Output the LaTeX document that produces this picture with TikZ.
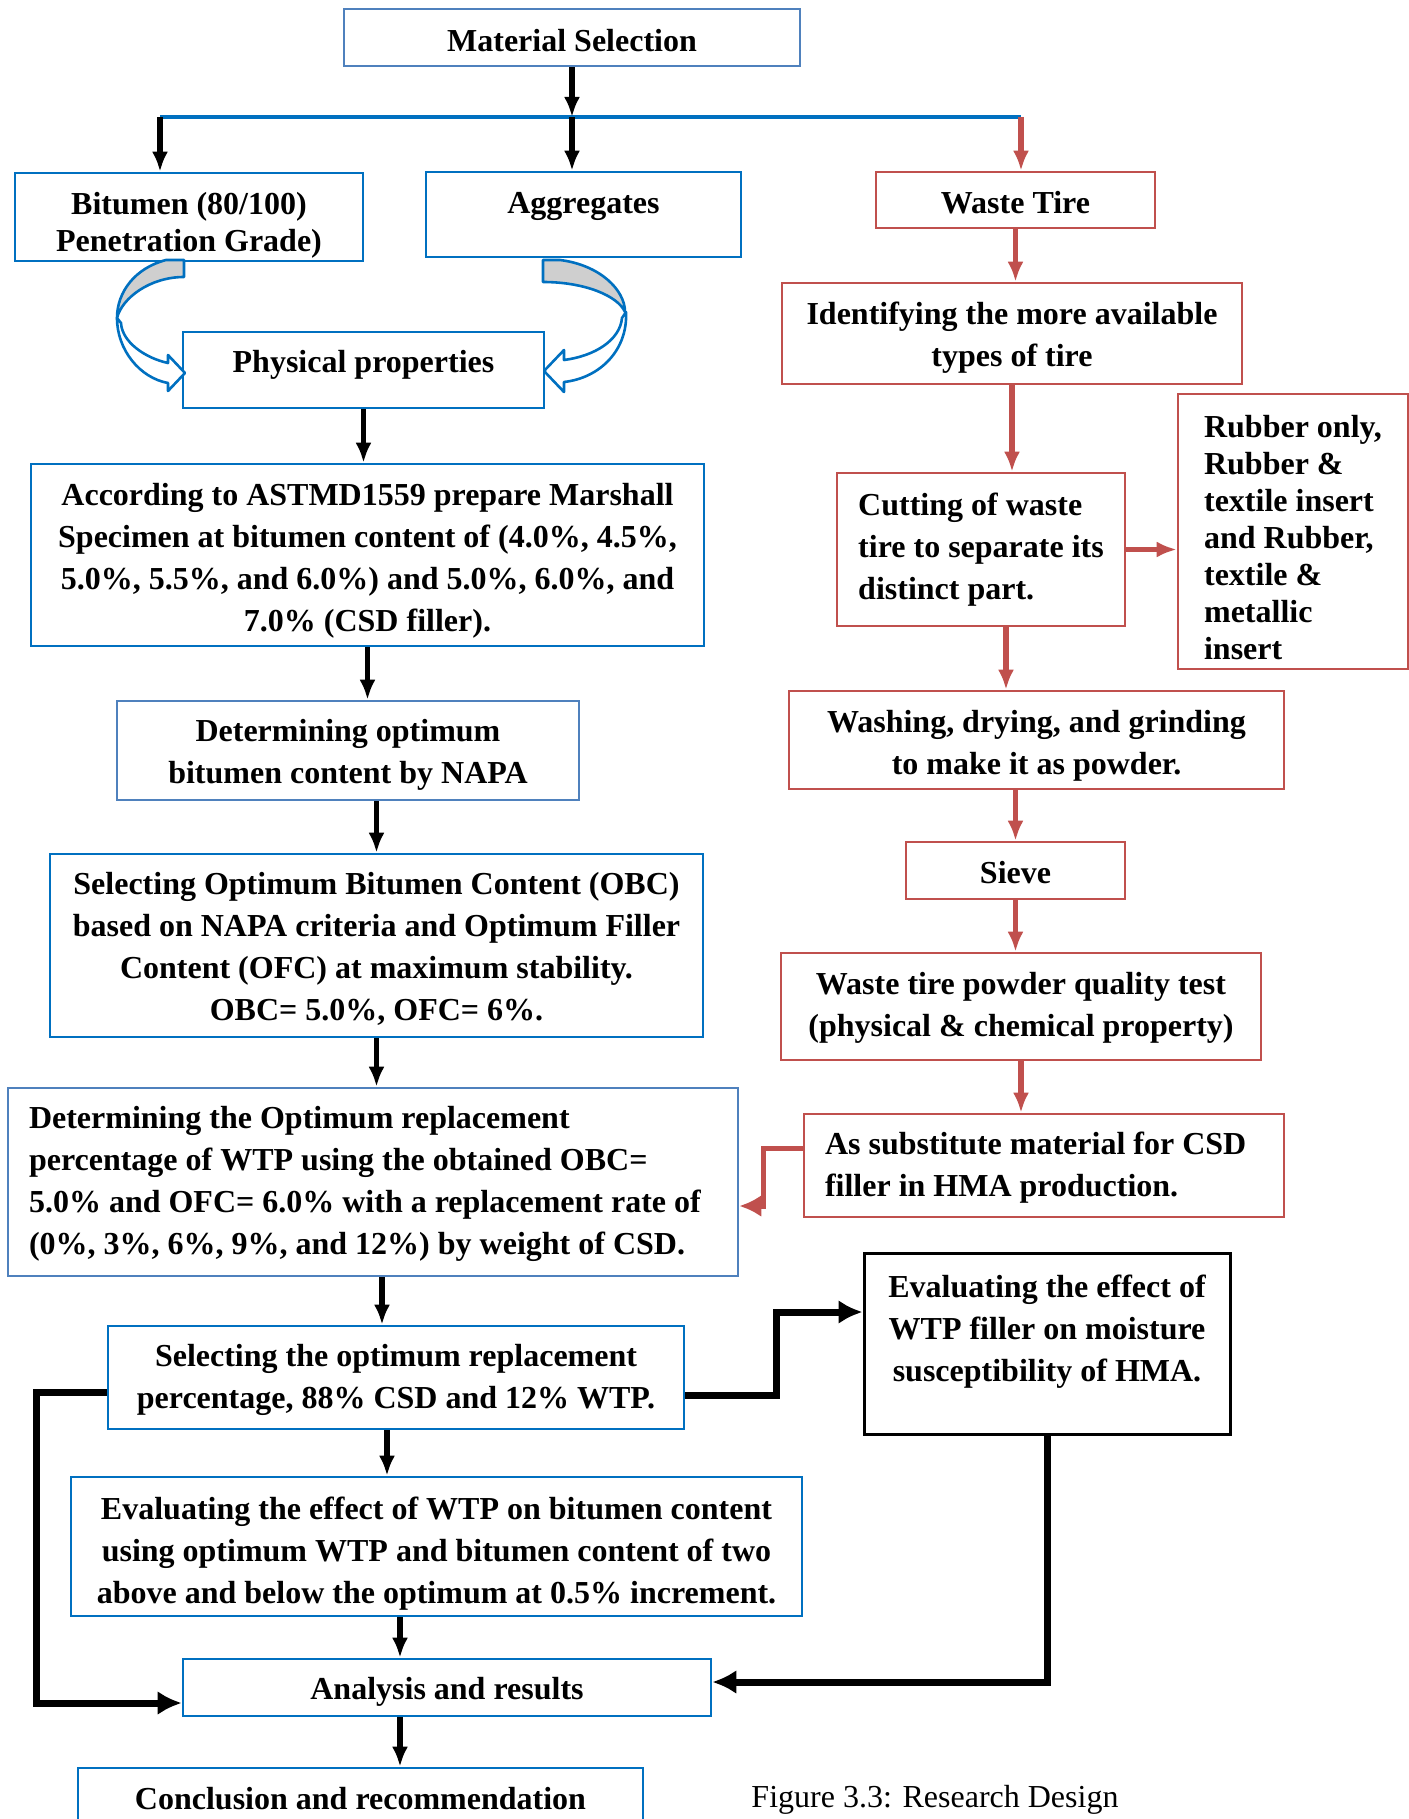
\documentclass[tikz,border=0pt]{standalone}
\usepackage{fontspec}
\setmainfont{Liberation Serif}
\usetikzlibrary{positioning,calc,arrows.meta}

\definecolor{boxblue}{HTML}{0070C0}
\definecolor{paleblue}{HTML}{4F81BD}
\definecolor{tirered}{HTML}{C0504D}
\definecolor{backgray}{HTML}{CFCFCF}
\newcommand{\dropline}[1]{\rule{0pt}{#1}}  % taller first line pushes the text down

\begin{document}
\begin{tikzpicture}[x=0.5pt,y=-0.5pt,>={Latex[length=10pt,width=8pt]},line width=2.6pt,  % one unit = one pixel of the scan
    box/.style={draw=boxblue,line width=1.3pt,inner sep=0pt,align=center,font=\fontsize{16}{21}\selectfont\bfseries},
    palebox/.style={box,draw=paleblue},
    redbox/.style={box,draw=tirered},
    leftbox/.style={align=flush left,inner xsep=10.5pt},
    raiseby/.style={execute at end node={\rule[-#1]{0pt}{#1}}},  % pushes the text up a little
    redflow/.style={->,tirered},
    thickflow/.style={-{Latex[length=12pt,width=12pt]},line width=3.5pt},
    curvedband/.style={draw=boxblue,line width=1.3pt,line join=round}]
    \useasboundingbox (0,0) rectangle (1408,1819);

    % Left column
    \node[palebox,minimum width=228pt,minimum height=28.5pt] (matsel) at (572,37.5) {\dropline{14.5pt}Material Selection};
    \node[box,minimum width=174pt,minimum height=44pt,font=\fontsize{16}{18.5}\selectfont\bfseries] (bitumen) at (189,217) {\dropline{19pt}Bitumen (80/100)\\Penetration Grade)};
    \node[box,minimum width=157.5pt,minimum height=42.5pt,font=\fontsize{16}{18.5}\selectfont\bfseries] (aggr) at (583.5,214.5) {\dropline{18pt}Aggregates\\\phantom{A}};
    \node[box,raiseby=9pt,minimum width=180.5pt,minimum height=38pt] (phys) at (363.5,370) {Physical properties};
    \node[box,minimum width=336.5pt,minimum height=91pt] (astm) at (367.5,555) {\dropline{16.8pt}According to ASTMD1559 prepare Marshall\\Specimen at bitumen content of (4.0\%, 4.5\%,\\5.0\%, 5.5\%, and 6.0\%) and 5.0\%, 6.0\%, and\\7.0\% (CSD filler).};
    \node[palebox,minimum width=231pt,minimum height=49.5pt] (detopt) at (348,750.5) {\dropline{15.6pt}Determining optimum\\bitumen content by NAPA};
    \node[box,minimum width=326.5pt,minimum height=91.5pt] (obc) at (376.5,945.5) {\dropline{14.5pt}Selecting Optimum Bitumen Content (OBC)\\based on NAPA criteria and Optimum Filler\\Content (OFC) at maximum stability.\\OBC= 5.0\%, OFC= 6\%.};
    \node[palebox,leftbox,minimum height=94pt,text width=344pt] (detrep) at (373,1182) {\mbox{\dropline{13pt}Determining the Optimum replacement}\\\mbox{percentage of WTP using the obtained OBC=}\\\mbox{5.0\% and OFC= 6.0\% with a replacement rate of}\\\mbox{(0\%, 3\%, 6\%, 9\%, and 12\%) by weight of CSD.}};
    \node[box,minimum width=288pt,minimum height=51.5pt] (selrep) at (396,1377.5) {\dropline{13.3pt}Selecting the optimum replacement\\percentage, 88\% CSD and 12\% WTP.};
    \node[box,minimum width=365.5pt,minimum height=69.5pt] (evbit) at (436.5,1546.5) {\dropline{18pt}Evaluating the effect of WTP on bitumen content\\using optimum WTP and bitumen content of two\\above and below the optimum at 0.5\% increment.};
    \node[box,minimum width=264pt,minimum height=28.5pt] (analysis) at (447,1687.5) {\dropline{15.6pt}Analysis and results};
    \node[box,minimum width=282.5pt,minimum height=31pt] (concl) at (360.5,1799) {Conclusion and recommendation};

    % Right column
    \node[redbox,minimum width=139.5pt,minimum height=28pt] (wtire) at (1015.5,200) {\dropline{13.4pt}Waste Tire};
    \node[redbox,minimum width=230pt,minimum height=50.5pt] (ident) at (1012,333.5) {\dropline{15.6pt}Identifying the more available\\types of tire};
    \node[redbox,minimum width=144pt,minimum height=76.5pt,align=left] (cutting) at (981,549.5) {Cutting of waste\\tire to separate its\\distinct part.};
    \node[redbox,minimum width=115pt,minimum height=137.5pt,align=left,font=\fontsize{16}{18.5}\selectfont\bfseries] (rubber) at (1293,531.5) {\dropline{16.8pt}Rubber only,\\Rubber \&\\textile insert\\and Rubber,\\textile \&\\metallic\\insert};
    \node[redbox,minimum width=247.5pt,minimum height=49pt] (washing) at (1036.5,740) {\dropline{16.8pt}Washing, drying, and grinding\\to make it as powder.};
    \node[redbox,minimum width=109.5pt,minimum height=28.5pt] (sieve) at (1015.5,870.5) {\dropline{13.4pt}Sieve};
    \node[redbox,minimum width=240pt,minimum height=53.5pt] (powdertest) at (1021,1006.5) {\dropline{12.2pt}Waste tire powder quality test\\(physical \& chemical property)};
    \node[redbox,leftbox,minimum height=51.5pt,text width=219pt] (subst) at (1044,1165.5) {\mbox{\dropline{13.4pt}As substitute material for CSD}\\\mbox{filler in HMA production.}};
    \node[box,draw=black,line width=1.5pt,minimum width=183pt,minimum height=90.5pt] (moisture) at (1047,1343.5) {Evaluating the effect of\\WTP filler on moisture\\susceptibility of HMA.\\[-6pt]\phantom{A}};

    \node[font=\fontsize{16}{21}\selectfont] (caption) at (935,1800) {Figure 3.3: Research Design};

    % Split of the material selection
    \coordinate (busL) at (160,117);
    \coordinate (busM) at (572,117);
    \coordinate (busR) at (1021,117);
    \draw[boxblue,line width=2pt] (busL) -- (busR);
    \draw[->] (matsel.south) -- (busM);
    \draw[->] (busL) -- (busL |- bitumen.north);
    \draw[->] (busM) -- (busM |- aggr.north);
    \draw[redflow] (busR) -- (busR |- wtire.north);

    % Curved arrows into physical properties
    \draw[curvedband,fill=backgray] (184,260) -- (166,260) .. controls (135,268) and (117,292) .. (117,318) .. controls (122,298) and (150,277) .. (184,277) -- cycle;
    \draw[curvedband,fill=white] (117,318) .. controls (117,350) and (140,378) .. (168,383) -- (168,391) -- (185,373) -- (168,355) -- (168,363) .. controls (145,358) and (122,342) .. (121,323) -- cycle;
    \draw[curvedband,fill=backgray] (543,260) -- (560,260) .. controls (600,265) and (625,290) .. (625,312) .. controls (618,296) and (585,282) .. (543,282) -- cycle;
    \draw[curvedband,fill=white] (626,312) .. controls (628,350) and (600,378) .. (564,382) -- (564,392) -- (544,371) -- (564,350) -- (564,360) .. controls (595,356) and (620,340) .. (622,318) -- cycle;

    % Main flow
    \draw[->] (phys.south) -- (phys.south |- astm.north);
    \draw[->] (astm.south) -- (astm.south |- detopt.north);
    \draw[->] (obc.north |- detopt.south) -- (obc.north);
    \draw[->] (obc.south) -- (obc.south |- detrep.north);
    \draw[->] ([xshift=-7pt]selrep.north |- detrep.south) -- ([xshift=-7pt]selrep.north);
    \draw[->] ([xshift=-4.5pt]selrep.south) -- ([xshift=-4.5pt]selrep.south |- evbit.north);
    \draw[->] ([xshift=-23.5pt]analysis.north |- evbit.south) -- ([xshift=-23.5pt]analysis.north);
    \draw[->] ([xshift=-23.5pt]analysis.south) -- ([xshift=-23.5pt]analysis.south |- concl.north);

    % Waste tire flow
    \draw[redflow] (wtire.south) -- (wtire.south |- ident.north);
    \draw[redflow] (ident.south) -- (ident.south |- cutting.north);
    \draw[redflow] (cutting.east) -- (cutting.east -| rubber.west);
    \draw[redflow] ([xshift=12.5pt]cutting.south) -- ([xshift=12.5pt]cutting.south |- washing.north);
    \draw[redflow] (sieve.north |- washing.south) -- (sieve.north);
    \draw[redflow] (sieve.south) -- (sieve.south |- powdertest.north);
    \draw[redflow] (powdertest.south) -- (powdertest.south |- subst.north);
    \draw[redflow,line width=2.5pt,-{Latex[length=11pt,width=11pt]}] ([yshift=8.75pt]subst.west) -- ++(-39,0) |- ([yshift=-12pt]detrep.east);

    % Side branches
    \draw[thickflow] ([yshift=-8.75pt]selrep.east) -- ++(91,0) |- ([yshift=15.75pt]moisture.west);
    \draw[thickflow] ([yshift=-7.25pt]selrep.west) -- ++(-70,0) |- ([yshift=-7.75pt]analysis.west);
    \draw[thickflow] (moisture.south) |- ([yshift=2.75pt]analysis.east);
\end{tikzpicture}
\end{document}
